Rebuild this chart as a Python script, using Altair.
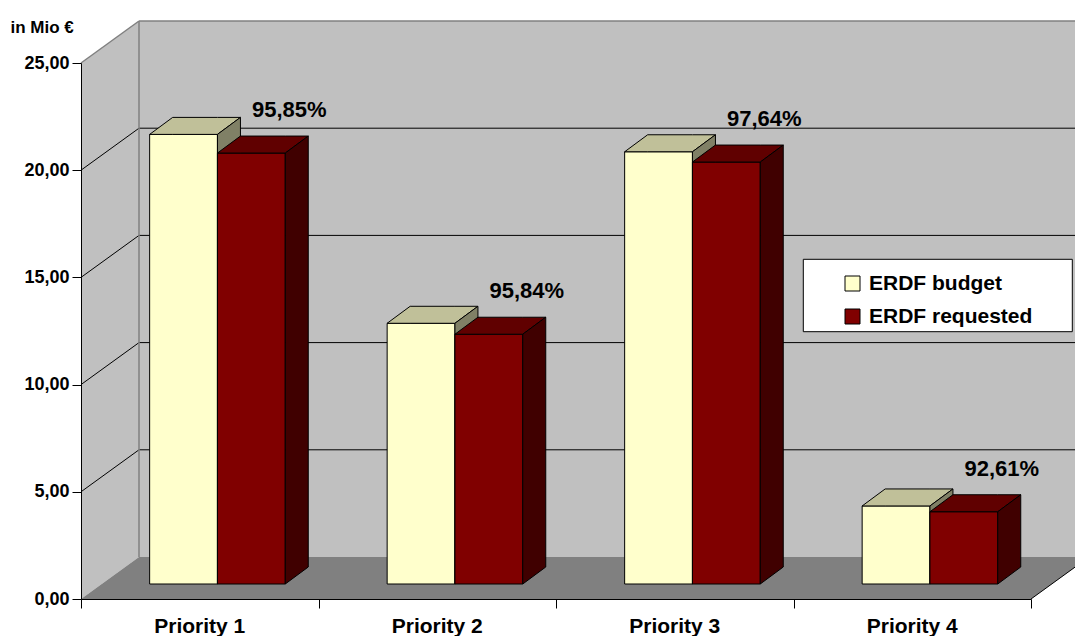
import altair as alt
import pandas as pd

# ---------------- data ----------------
categories = ["Priority 1", "Priority 2", "Priority 3", "Priority 4"]
series = ["ERDF budget", "ERDF requested"]
budget = [20.97, 12.16, 20.16, 3.64]
requested = [20.10, 11.65, 19.68, 3.37]
pct_labels = ["95,85%", "95,84%", "97,64%", "92,61%"]
y_ticks = [0, 5, 10, 15, 20, 25]
unit_label = "in Mio €"

front_colors = ["#FFFFCC", "#800000"]
top_colors = ["#C0C099", "#600000"]
side_colors = ["#808066", "#400000"]

FONT = "Liberation Sans"

# ---------------- geometry (plot area & 3D depth) ----------------
W, H = 950, 536
YMAX = 25
NCAT = len(categories)
PX_CAT = W / NCAT
PX_VAL = H / YMAX
DX = 58 / PX_CAT          # full depth of the box (x, category units)
DY = 42 / PX_VAL          # full depth of the box (y, value units)
BAR_W = 67.8 / PX_CAT
BAR_OFF_X = 17.7 / PX_CAT
BAR_OFF_Y = 15 / PX_VAL
BDX = 23 / PX_CAT         # bar depth
BDY = 17 / PX_VAL
XR = NCAT + DX + 0.5      # right end of back wall (beyond canvas)

xscale = alt.Scale(domain=[0, NCAT], nice=False, zero=False)
yscale = alt.Scale(domain=[0, YMAX], nice=False, zero=False)

x_axis = alt.Axis(values=list(range(NCAT + 1)), labels=False, tickSize=9,
                  tickColor="black", domainColor="black", grid=False,
                  title=None, zindex=1)
y_axis = alt.Axis(values=y_ticks,
                  labelExpr="replace(format(datum.value, '.2f'), '.', ',')",
                  tickSize=9, tickColor="black", domainColor="black",
                  grid=False, labelFont=FONT, labelFontSize=18,
                  labelFontWeight="bold", labelColor="black", labelPadding=3,
                  title=unit_label, titleAngle=0, titleAlign="left",
                  titleBaseline="alphabetic", titleX=-71, titleY=-31,
                  titleFont=FONT, titleFontSize=17, titleFontWeight="bold",
                  titleColor="black", zindex=1)


def X(f):
    return alt.X(f"{f}:Q", scale=xscale, axis=x_axis)


def Y(f):
    return alt.Y(f"{f}:Q", scale=yscale, axis=y_axis)


# ---------------- tables ----------------
walls_back = pd.DataFrame([dict(x0=DX, x1=XR, y0=DY, y1=YMAX + DY)])
wall_left = pd.DataFrame([dict(x=0, ya=0, yb=YMAX), dict(x=DX, ya=DY, yb=YMAX + DY)])
floor = pd.DataFrame([dict(x=0, ya=0, yb=0), dict(x=DX, ya=0, yb=DY),
                      dict(x=NCAT, ya=0, yb=DY), dict(x=NCAT + DX, ya=DY, yb=DY)])

grid_black, grid_grey = [], []
for v in y_ticks[1:]:
    target = grid_grey if v == YMAX else grid_black
    target.append(dict(x0=DX, x1=XR, y0=v + DY, y1=v + DY))
    target.append(dict(x0=0, x1=DX, y0=v, y1=v + DY))
grid_grey.append(dict(x0=DX, x1=DX, y0=DY, y1=YMAX + DY))
grid_black.append(dict(x0=NCAT, x1=NCAT + DX, y0=0, y1=DY))
grid_black = pd.DataFrame(grid_black)
grid_grey = pd.DataFrame(grid_grey)

front_rows, top_rows, side_rows, pct_rows = [], [], [], []
for s_idx, (sname, vals) in enumerate(zip(series, [budget, requested])):
    for i, (cat, v) in enumerate(zip(categories, vals)):
        x0 = i + 0.5 - BAR_W + s_idx * BAR_W + BAR_OFF_X
        x1 = x0 + BAR_W
        base = BAR_OFF_Y
        top = base + v
        bid = f"{s_idx}-{i}"
        front_rows.append(dict(series=sname, cat=cat, x0=x0, x1=x1, y0=base, y1=top))
        for xx, ya, yb in [(x0, top, top), (x0 + BDX, top, top + BDY),
                           (x1, top, top + BDY), (x1 + BDX, top + BDY, top + BDY)]:
            top_rows.append(dict(series=sname, id=bid, x=xx, ya=ya, yb=yb))
        for xx, ya, yb in [(x1, base, top), (x1 + BDX, base + BDY, top + BDY)]:
            side_rows.append(dict(series=sname, id=bid, x=xx, ya=ya, yb=yb))
        if s_idx == 1:
            pct_rows.append(dict(x=x1 + BDX, y=top + BDY, label=pct_labels[i]))
front_df = pd.DataFrame(front_rows)
top_df = pd.DataFrame(top_rows)
side_df = pd.DataFrame(side_rows)
pct_df = pd.DataFrame(pct_rows)
cat_df = pd.DataFrame([dict(x=i + 0.5, y=0, label=c) for i, c in enumerate(categories)])

# ---------------- layers ----------------
back = alt.Chart(walls_back).mark_rect(fill="#C0C0C0").encode(
    x=X("x0"), x2="x1", y=Y("y0"), y2="y1")
left = alt.Chart(wall_left).mark_area(fill="#C0C0C0", orient="vertical").encode(
    x=X("x"), y=Y("ya"), y2="yb")
flo = alt.Chart(floor).mark_area(fill="#808080", orient="vertical").encode(
    x=X("x"), y=Y("ya"), y2="yb")
g_black = alt.Chart(grid_black).mark_rule(color="black", strokeWidth=1).encode(
    x=X("x0"), x2="x1", y=Y("y0"), y2="y1")
g_grey = alt.Chart(grid_grey).mark_rule(color="#808080", strokeWidth=1.5).encode(
    x=X("x0"), x2="x1", y=Y("y0"), y2="y1")

color = alt.Color("series:N",
                  scale=alt.Scale(domain=series, range=front_colors),
                  legend=alt.Legend(orient="none", legendX=761, legendY=210,
                                    title=None, symbolType="square",
                                    symbolSize=225, symbolStrokeColor="black",
                                    symbolStrokeWidth=1, labelFont=FONT,
                                    labelFontSize=21, labelFontWeight="bold",
                                    labelColor="black", labelOffset=6,
                                    labelLimit=400, rowPadding=11, padding=0))

bar_layers = []
for s_idx, sname in enumerate(series):
    f = alt.Chart(front_df).transform_filter(alt.datum.series == sname).mark_rect(
        stroke="black", strokeWidth=1).encode(
        x=X("x0"), x2="x1", y=Y("y0"), y2="y1", color=color)
    t = alt.Chart(top_df).transform_filter(alt.datum.series == sname).mark_area(
        fill=top_colors[s_idx], stroke="black", strokeWidth=1,
        orient="vertical").encode(
        x=X("x"), y=Y("ya"), y2="yb", detail="id:N")
    sd = alt.Chart(side_df).transform_filter(alt.datum.series == sname).mark_area(
        fill=side_colors[s_idx], stroke="black", strokeWidth=1,
        orient="vertical").encode(
        x=X("x"), y=Y("ya"), y2="yb", detail="id:N")
    bar_layers += [f, t, sd]

legend_box = alt.Chart(pd.DataFrame([{"k": 0}])).mark_rect(
    fill="white", stroke="black", strokeWidth=1).encode(
    x=alt.value(722.3), x2=alt.value(991.3), y=alt.value(196.3), y2=alt.value(268.7))

pct_text = alt.Chart(pct_df).mark_text(
    font=FONT, fontSize=22, fontWeight="bold", color="black",
    align="center", baseline="alphabetic", dx=-19, dy=-19).encode(
    x=X("x"), y=Y("y"), text="label:N")

cat_text = alt.Chart(cat_df).mark_text(
    font=FONT, fontSize=21, fontWeight="bold", color="black",
    align="center", baseline="alphabetic", dy=34).encode(
    x=X("x"), y=Y("y"), text="label:N")

chart = alt.layer(
    back, left, flo, g_black, g_grey, *bar_layers, legend_box, pct_text, cat_text
).properties(
    width=W, height=H,
    padding={"left": 81, "top": 63, "right": 44, "bottom": 37},
    autosize=alt.AutoSizeParams(type="none"),
    background="white",
).configure_view(stroke=None)

chart.save("out.html", embed_options={"renderer": "svg", "actions": False})
